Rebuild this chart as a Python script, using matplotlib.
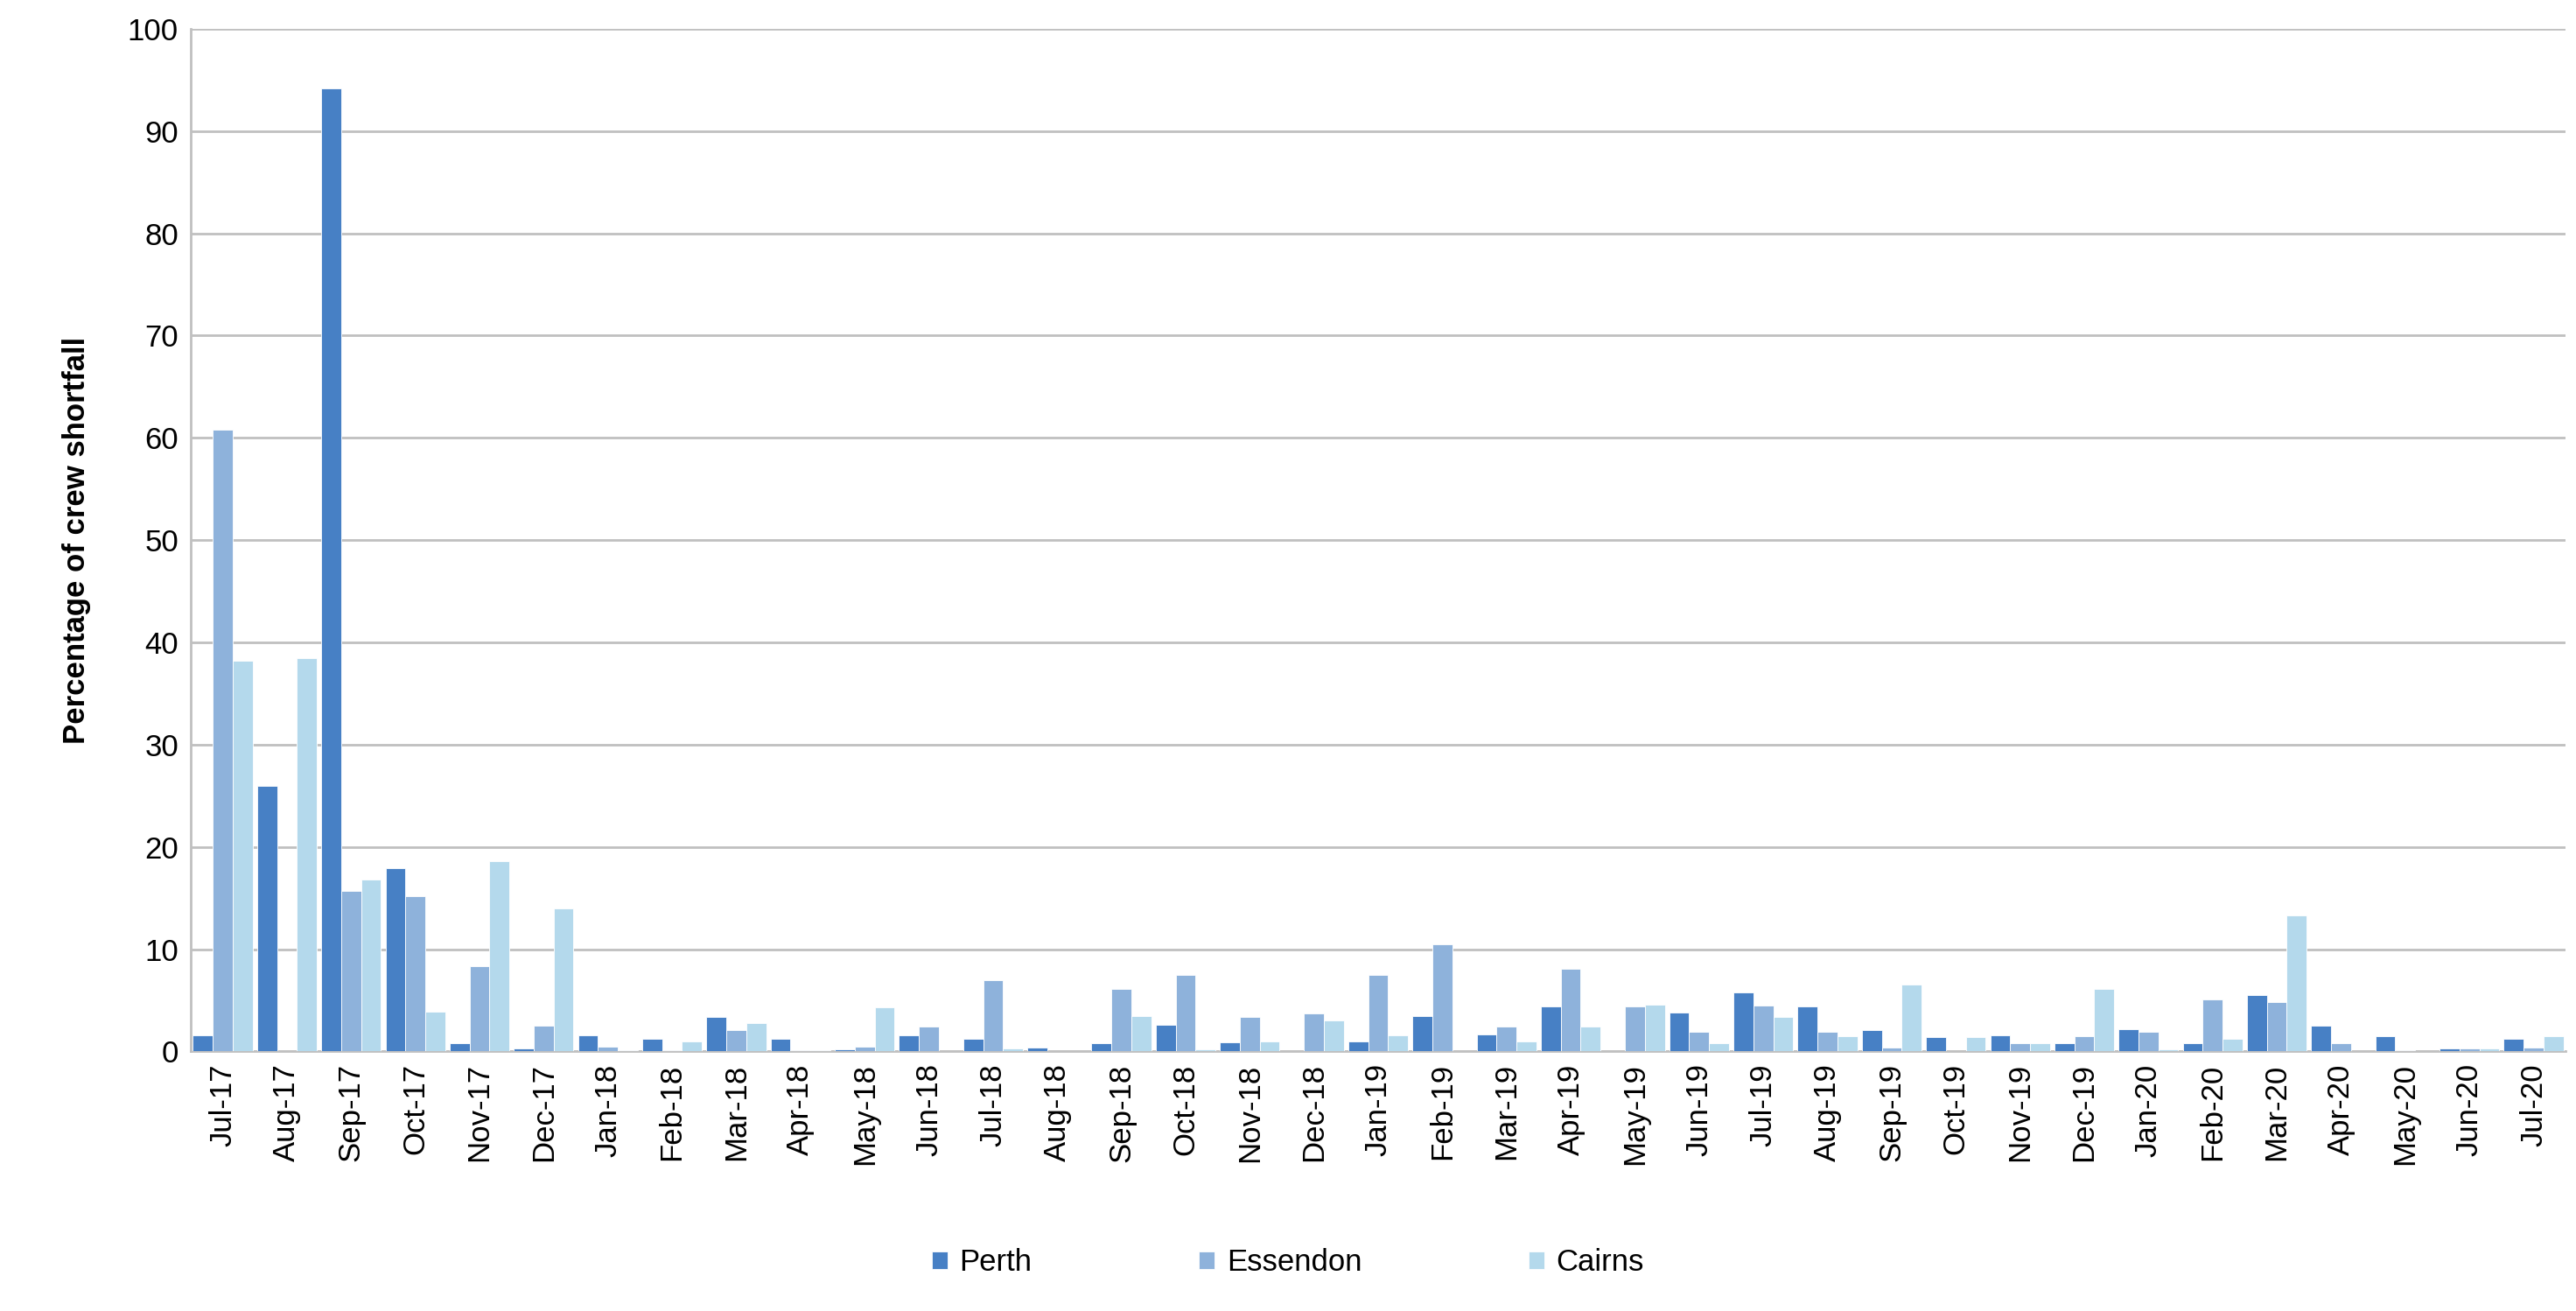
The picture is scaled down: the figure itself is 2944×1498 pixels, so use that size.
import numpy as np
import matplotlib
matplotlib.use('Agg')
import matplotlib.pyplot as plt

plt.rcParams['font.family'] = ['Liberation Sans', 'DejaVu Sans']

months = ["Jul-17", "Aug-17", "Sep-17", "Oct-17", "Nov-17", "Dec-17",
          "Jan-18", "Feb-18", "Mar-18", "Apr-18", "May-18", "Jun-18",
          "Jul-18", "Aug-18", "Sep-18", "Oct-18", "Nov-18", "Dec-18",
          "Jan-19", "Feb-19", "Mar-19", "Apr-19", "May-19", "Jun-19",
          "Jul-19", "Aug-19", "Sep-19", "Oct-19", "Nov-19", "Dec-19",
          "Jan-20", "Feb-20", "Mar-20", "Apr-20", "May-20", "Jun-20", "Jul-20"]
perth = [1.6, 26.0, 94.2, 17.9, 0.8, 0.3, 1.6, 1.2, 3.4, 1.2, 0.2, 1.6,
         1.2, 0.4, 0.8, 2.6, 0.9, 0.0, 1.0, 3.5, 1.7, 4.4, 0.0, 3.8,
         5.8, 4.4, 2.1, 1.4, 1.6, 0.8, 2.2, 0.8, 5.5, 2.5, 1.5, 0.3, 1.2]
essendon = [60.8, 0.0, 15.7, 15.2, 8.3, 2.5, 0.5, 0.1, 2.1, 0.1, 0.5, 2.4,
            7.0, 0.0, 6.1, 7.5, 3.4, 3.7, 7.5, 10.5, 2.4, 8.1, 4.4, 1.9,
            4.5, 1.9, 0.4, 0.0, 0.8, 1.5, 1.9, 5.1, 4.8, 0.8, 0.1, 0.3, 0.4]
cairns = [38.2, 38.5, 16.8, 3.9, 18.6, 14.0, 0.1, 1.0, 2.8, 0.1, 4.3, 0.0,
          0.3, 0.0, 3.5, 0.2, 1.0, 3.0, 1.6, 0.0, 1.0, 2.4, 4.6, 0.8,
          3.4, 1.5, 6.5, 1.4, 0.8, 6.1, 0.2, 1.2, 13.3, 0.0, 0.0, 0.3, 1.5]

series = [("Perth", perth, "#4780C5"),
          ("Essendon", essendon, "#8EB2DB"),
          ("Cairns", cairns, "#B4D9EC")]

fig = plt.figure(figsize=(29.44, 14.98), dpi=100)
ax = fig.add_axes([0.074, 0.198, 0.922, 0.78])

x = np.arange(len(months))
w = 0.31
for i, (name, vals, col) in enumerate(series):
    ax.bar(x + (i - 1) * w, vals, w, color=col, label=name,
           edgecolor='white', linewidth=0.6, zorder=3)

ax.set_xlim(-0.5, len(months) - 0.5)
ax.set_ylim(0, 100)
ax.set_yticks(range(0, 101, 10))
ax.yaxis.grid(True, color='#c0c0c0', lw=2, zorder=0)
ax.set_xticks(x)
ax.set_xticklabels(months, rotation=90, fontsize=25)
ax.tick_params(axis='y', labelsize=25, length=0, pad=10)
ax.tick_params(axis='x', length=0, pad=10)
for s in ['top', 'right']:
    ax.spines[s].set_visible(False)
ax.spines['left'].set_color('#c0c0c0')
ax.spines['left'].set_linewidth(2)
ax.spines['bottom'].set_color('#c0c0c0')
ax.spines['bottom'].set_linewidth(2)
ax.set_ylabel("Percentage of crew shortfall", fontsize=25, fontweight='bold', labelpad=30)

fig.legend(loc='lower center', bbox_to_anchor=(0.5, 0.005), ncol=3, frameon=False,
           fontsize=25, handlelength=0.5, handleheight=0.5, columnspacing=5.5, handletextpad=0.4)

plt.savefig("out.png", dpi=100, facecolor='white')
